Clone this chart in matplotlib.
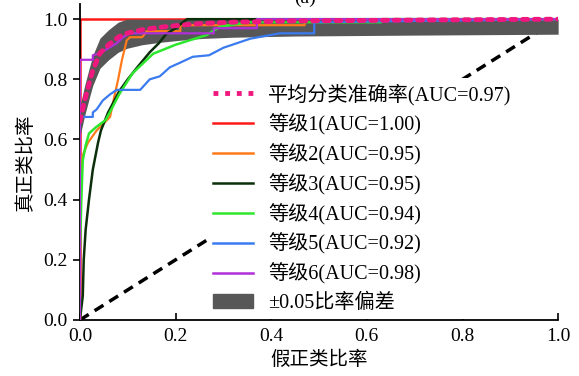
import numpy as np
import matplotlib
matplotlib.use("Agg")
import matplotlib.pyplot as plt
from matplotlib.patches import Patch

plt.rcParams['font.family'] = ['Liberation Serif', 'Noto Sans CJK SC']
plt.rcParams['axes.unicode_minus'] = False

# courbe moyenne (taux moyen) et bande +-0.05
fpr_moy = [0, 0.01, 0.02, 0.027, 0.042, 0.06, 0.08, 0.098, 0.13, 0.167, 0.21, 0.257, 0.32, 0.45, 0.7, 1.0]
tpr_moy = [0.66, 0.73, 0.79, 0.83, 0.887, 0.915, 0.94, 0.953, 0.965, 0.973, 0.98, 0.986, 0.99, 0.994, 0.997, 1.0]
ecart = 0.05

# niveaux 1 a 6
fpr_1 = [0, 0, 1.0]
tpr_1 = [0, 1.0, 1.0]

fpr_2 = [0, 0, 0.004, 0.017, 0.035, 0.063, 0.073, 0.08, 0.088, 0.098, 0.105, 0.13, 0.14, 0.21, 0.21, 0.47, 0.47, 1.0]
tpr_2 = [0, 0.5, 0.54, 0.59, 0.63, 0.675, 0.75, 0.80, 0.865, 0.93, 0.94, 0.94, 0.96, 0.96, 0.98, 0.98, 1.0, 1.0]

fpr_3 = [0, 0.006, 0.008, 0.012, 0.019, 0.027, 0.038, 0.044, 0.059, 0.069, 0.082, 0.10, 0.12, 0.146, 0.165, 0.18, 0.2, 0.224, 1.0]
tpr_3 = [0, 0.08, 0.2, 0.3, 0.4, 0.5, 0.59, 0.63, 0.69, 0.72, 0.76, 0.80, 0.84, 0.89, 0.92, 0.95, 0.97, 1.0, 1.0]

fpr_4 = [0, 0, 0.003, 0.006, 0.012, 0.019, 0.033, 0.054, 0.069, 0.082, 0.11, 0.153, 0.2, 0.23, 0.265, 0.293, 0.356, 0.63, 0.63, 1.0]
tpr_4 = [0, 0.22, 0.4, 0.53, 0.58, 0.62, 0.64, 0.665, 0.71, 0.75, 0.82, 0.885, 0.915, 0.93, 0.947, 0.975, 0.99, 0.99, 1.0, 1.0]

fpr_5 = [0, 0, 0.027, 0.027, 0.035, 0.048, 0.063, 0.077, 0.126, 0.146, 0.167, 0.188, 0.209, 0.236, 0.27, 0.3, 0.356, 0.418, 0.49, 0.49, 1.0]
tpr_5 = [0, 0.675, 0.675, 0.69, 0.70, 0.73, 0.75, 0.765, 0.765, 0.80, 0.81, 0.84, 0.855, 0.875, 0.88, 0.905, 0.935, 0.953, 0.953, 0.99, 1.0]

fpr_6 = [0, 0, 0.027, 0.027, 0.042, 0.063, 0.077, 0.09, 0.105, 0.28, 0.28, 0.37, 0.37, 1.0]
tpr_6 = [0, 0.865, 0.865, 0.88, 0.887, 0.907, 0.92, 0.94, 0.953, 0.953, 0.97, 0.97, 1.0, 1.0]

labels = ["平均分类准确率(AUC=0.97)", "等级1(AUC=1.00)", "等级2(AUC=0.95)", "等级3(AUC=0.95)",
          "等级4(AUC=0.94)", "等级5(AUC=0.92)", "等级6(AUC=0.98)", "±0.05比率偏差"]
couleurs = ["#f0187f", "#ff1a1a", "#ff7a1a", "#0b2e0b", "#2ee62e", "#3a7bf0", "#b030d8", "#575757"]

fig = plt.figure(figsize=(5.79, 3.76), dpi=100)
ax = fig.add_axes([0.138, 0.149, 0.826, 0.840])

# diagonale
ax.plot([0, 1], [0, 1], color="black", lw=2.5, ls=(0, (3, 2)), zorder=1)

ax.plot(fpr_1, tpr_1, color=couleurs[1], lw=1.8, zorder=2)

x_moy = np.array(fpr_moy)
y_moy = np.array(tpr_moy)
ax.fill_between(x_moy, y_moy - ecart, np.minimum(y_moy + ecart, 1.0), color=couleurs[7], lw=0, zorder=3)

ax.plot(fpr_2, tpr_2, color=couleurs[2], lw=1.6, zorder=4)
ax.plot(fpr_3, tpr_3, color=couleurs[3], lw=1.8, zorder=4)
ax.plot(fpr_4, tpr_4, color=couleurs[4], lw=1.8, zorder=4)
ax.plot(fpr_5, tpr_5, color=couleurs[5], lw=1.6, zorder=4)
ax.plot(fpr_6, tpr_6, color=couleurs[6], lw=1.6, zorder=4)
ax.plot(x_moy, y_moy, color=couleurs[0], lw=3.5, ls=(0, (1, 1.4)), dash_capstyle="round", zorder=5)

handles = [plt.Line2D([], [], color=couleurs[0], lw=3.5, ls=(0, (1, 1.4))),
           plt.Line2D([], [], color=couleurs[1], lw=1.8),
           plt.Line2D([], [], color=couleurs[2], lw=1.8),
           plt.Line2D([], [], color=couleurs[3], lw=1.8),
           plt.Line2D([], [], color=couleurs[4], lw=1.8),
           plt.Line2D([], [], color=couleurs[5], lw=1.8),
           plt.Line2D([], [], color=couleurs[6], lw=1.8),
           Patch(color=couleurs[7])]
leg = ax.legend(handles, labels, loc="upper left", bbox_to_anchor=(0.265, 0.767), frameon=True,
                fontsize=14.5, handlelength=2.0, handletextpad=0.75, labelspacing=0.42,
                borderpad=0.3, borderaxespad=0)
leg.get_frame().set_edgecolor("none")
leg.get_frame().set_facecolor("white")
leg.get_frame().set_alpha(1.0)
leg.set_zorder(6)

ax.set_xlim(0, 1.0)
ax.set_ylim(0, 1.05)
ax.set_xticks([0, 0.2, 0.4, 0.6, 0.8, 1.0])
ax.set_yticks([0, 0.2, 0.4, 0.6, 0.8, 1.0])
ax.set_xticklabels(["0.0", "0.2", "0.4", "0.6", "0.8", "1.0"])
ax.set_yticklabels(["0.0", "0.2", "0.4", "0.6", "0.8", "1.0"])
ax.tick_params(axis="x", direction="in", labelsize=14, length=5, width=1.2, pad=6)
ax.tick_params(axis="y", direction="out", labelsize=14, length=5, width=1.2, pad=4)
ax.spines["top"].set_visible(False)
ax.spines["right"].set_visible(False)
ax.spines["left"].set_linewidth(1.3)
ax.spines["bottom"].set_linewidth(1.3)
ax.set_xlabel("假正类比率", fontsize=14, labelpad=4)
ax.set_ylabel("真正类比率", fontsize=14, labelpad=6)

fig.text(0.527, 0.992, "(a)", fontsize=14, ha="center", va="baseline")

fig.savefig("out.png", dpi=100)
